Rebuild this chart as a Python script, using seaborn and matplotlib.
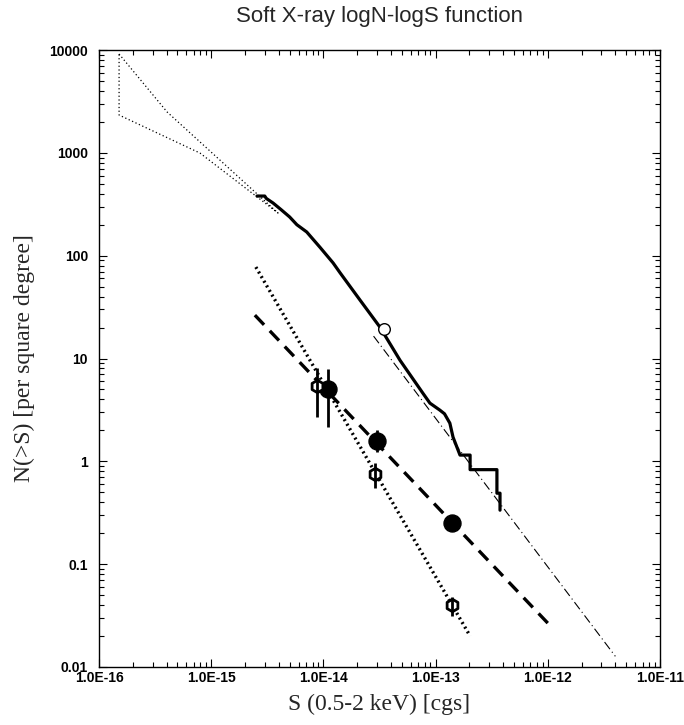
import numpy as np
import pandas as pd
import matplotlib
matplotlib.use("Agg")
import matplotlib.pyplot as plt
import matplotlib.ticker as mticker
import seaborn as sns

# cumulative counts (thick solid curve)
curve_s = [2.56e-15, 3.0e-15, 3.1e-15, 3.56e-15, 4.2e-15, 5.0e-15, 5.8e-15, 7.1e-15,
           9.3e-15, 1.22e-14, 1.41e-14, 2.12e-14, 3.19e-14, 4.82e-14, 7.7e-14, 8.9e-14,
           1.09e-13, 1.2e-13, 1.34e-13, 1.43e-13, 1.65e-13, 2.03e-13, 2.03e-13, 3.52e-13,
           3.52e-13, 3.75e-13, 3.75e-13]
curve_n = [380, 380, 360, 325, 280, 238, 200, 170, 121, 85, 68, 37, 20.2, 9.6, 4.6, 3.68,
           3.15, 2.9, 2.35, 1.72, 1.15, 1.15, 0.83, 0.83, 0.49, 0.49, 0.335]

# fluctuation analysis region (thin dotted polygon)
poly_s = [1.51e-16, 4.04e-16, 3.94e-15, 7.94e-16, 1.51e-16, 1.51e-16]
poly_n = [9140, 2500, 260, 995, 2330, 9140]

# single open circle on curve
circ_s = [3.5e-14]
circ_n = [19.5]

# bright-end power law (dash-dot)
pl_s = [2.8e-14, 4.0e-12]
pl_n = [16.5, 0.0127]

# filled circles + dashed fit
fill_s = [1.1e-14, 3.0e-14, 1.4e-13]
fill_n = [5.0, 1.57, 0.25]
fill_lo = [2.15, 1.23, 0.23]
fill_hi = [7.9, 2.01, 0.27]
dash_s = [2.45e-15, 1.0e-12]
dash_n = [26.4, 0.0267]

# open hexagons + dotted fit
hex_s = [8.8e-15, 2.88e-14, 1.4e-13]
hex_n = [5.4, 0.75, 0.04]
hex_lo = [2.7, 0.55, 0.031]
hex_hi = [8.1, 0.96, 0.048]
dot_s = [2.5e-15, 2.03e-13]
dot_n = [77.5, 0.02]

sns.set_style("ticks")
plt.rcParams['font.family'] = ['Liberation Sans', 'DejaVu Sans']

fig = plt.figure(figsize=(6.84, 7.25), dpi=100)
ax = fig.add_axes([99 / 684, 1 - 667 / 725, 561 / 684, 617 / 725])

line_kw = dict(sort=False, estimator=None, errorbar=None, ax=ax, color="black")
sns.lineplot(x=poly_s, y=poly_n, lw=0.9, linestyle=(0, (1, 2)), **line_kw)
sns.lineplot(x=curve_s, y=curve_n, lw=2.3, **line_kw)
sns.lineplot(x=pl_s, y=pl_n, lw=0.8, linestyle=(0, (8, 3, 1, 3)), **line_kw)
sns.lineplot(x=dash_s, y=dash_n, lw=2.4, linestyle=(0, (4, 2.5)), **line_kw)
sns.lineplot(x=dot_s, y=dot_n, lw=2.4, linestyle=(0, (0.6, 1.0)), **line_kw)

ax.vlines(fill_s, fill_lo, fill_hi, color="black", lw=2)
ax.vlines(hex_s, hex_lo, hex_hi, color="black", lw=2)
sns.scatterplot(x=fill_s, y=fill_n, ax=ax, color="black", s=150, marker="o",
                edgecolor="black", zorder=5)
ax.scatter(hex_s, hex_n, s=80, marker="h", facecolor="white", edgecolor="black",
           linewidths=2, zorder=5)
ax.scatter(hex_s, hex_n, s=80, marker="|", color="black", linewidths=2, zorder=6)
ax.scatter(circ_s, circ_n, s=70, marker="o", facecolor="white", edgecolor="black",
           linewidths=1, zorder=5)

ax.set_xscale("log")
ax.set_yscale("log")
ax.set_xlim(1e-16, 1e-11)
ax.set_ylim(0.01, 10000)

ax.xaxis.set_major_locator(mticker.LogLocator(base=10, numticks=10))
ax.yaxis.set_major_locator(mticker.LogLocator(base=10, numticks=10))
ax.xaxis.set_minor_locator(mticker.LogLocator(base=10, subs=np.arange(2, 10), numticks=20))
ax.yaxis.set_minor_locator(mticker.LogLocator(base=10, subs=np.arange(2, 10), numticks=20))
ax.xaxis.set_major_formatter(mticker.FuncFormatter(lambda v, p: f"{v:.1E}"))
ax.yaxis.set_major_formatter(mticker.FuncFormatter(lambda v, p: f"{v:g}"))
ax.xaxis.set_minor_formatter(mticker.NullFormatter())
ax.yaxis.set_minor_formatter(mticker.NullFormatter())

ax.tick_params(which="both", direction="in", top=True, right=True, width=0.8,
               colors="black")
ax.tick_params(which="major", length=6, labelsize=10)
ax.tick_params(axis="x", which="major", pad=3)
ax.tick_params(axis="y", which="major", pad=8)
ax.tick_params(which="minor", length=3.5)
for lab in ax.get_xticklabels() + ax.get_yticklabels():
    lab.set_fontweight("bold")
for sp in ax.spines.values():
    sp.set_linewidth(1.0)
    sp.set_color("black")

ax.set_title("Soft X-ray logN-logS function", fontsize=16, pad=20)
ax.set_xlabel("S (0.5-2 keV) [cgs]", family="Liberation Serif", fontsize=17, labelpad=6)
ax.set_ylabel("N(>S) [per square degree]", family="Liberation Serif", fontsize=17,
              labelpad=10)

fig.savefig("out.png", dpi=100)
